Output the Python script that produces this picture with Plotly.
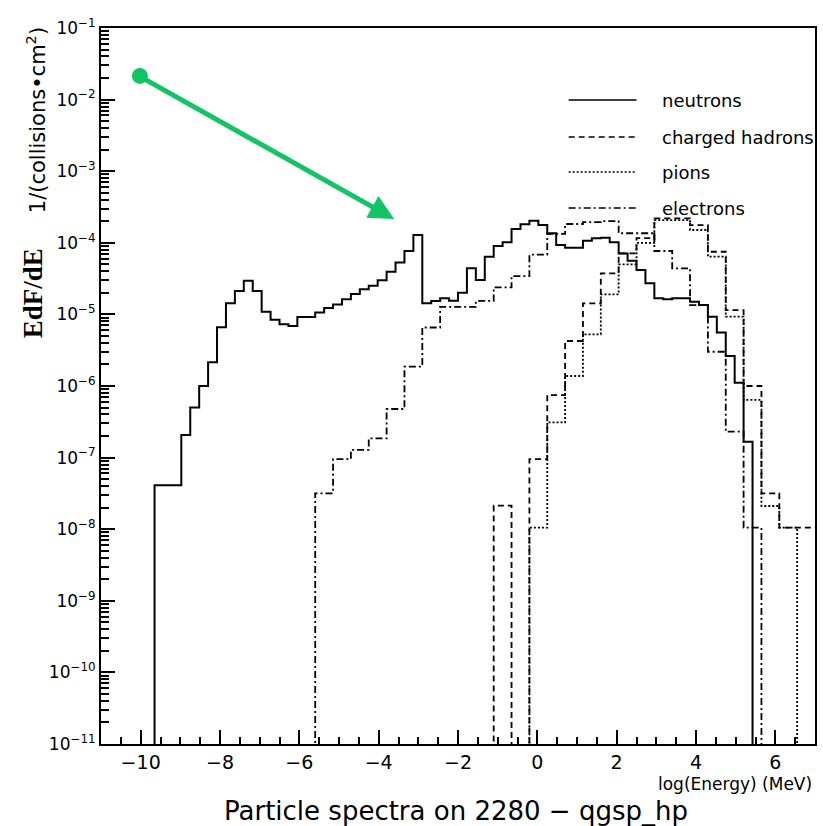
import plotly.graph_objects as go

# ---------------- data ----------------
X_MIN, X_MAX = -11.0, 7.0

neutrons = [0, 0, 0, 0, 0, 0, 4.1e-8, 4.1e-8, 4.1e-8, 2.07e-7,
            5.0e-7, 1.0e-6, 2.14e-6, 6.6e-6, 1.43e-5, 2.12e-5, 2.96e-5, 2.12e-5, 1.09e-5, 8.4e-6,
            7.3e-6, 6.9e-6, 9.2e-6, 9.2e-6, 1.06e-5, 1.23e-5, 1.37e-5, 1.63e-5, 1.93e-5, 2.24e-5,
            2.52e-5, 3.0e-5, 3.95e-5, 5.3e-5, 7.7e-5, 1.29e-4, 1.43e-5, 1.54e-5, 1.68e-5, 1.55e-5,
            2.01e-5, 4.4e-5, 3.02e-5, 6.4e-5, 9.0e-5, 1.02e-4, 1.56e-4, 1.81e-4, 2.04e-4, 1.77e-4,
            1.36e-4, 9.3e-5, 8.5e-5, 8.5e-5, 1.07e-4, 1.16e-4, 1.18e-4, 1.02e-4, 7.1e-5, 5.6e-5,
            4.17e-5, 2.72e-5, 1.68e-5, 1.63e-5, 1.68e-5, 1.68e-5, 1.50e-5, 1.35e-5, 9.3e-6, 5.6e-6,
            2.62e-6, 1.11e-6, 1.67e-7, 0, 0, 0, 0, 0, 0, 0]

charged_hadrons = [0, 0, 0, 0, 0, 0, 0, 0, 0, 0,
                   0, 0, 0, 0, 0, 0, 0, 0, 0, 0,
                   0, 0, 2.13e-8, 0, 9.55e-8, 7.48e-7, 4.25e-6, 1.43e-5, 3.75e-5, 7.1e-5,
                   1.16e-4, 2.2e-4, 2.2e-4, 1.77e-4, 7.5e-5, 1.15e-5, 1.0e-6, 3.17e-8, 1.05e-8, 1.05e-8]

pions = [0, 0, 0, 0, 0, 0, 0, 0, 0, 0,
         0, 0, 0, 0, 0, 0, 0, 0, 0, 0,
         0, 0, 0, 0, 1.05e-8, 3.11e-7, 1.38e-6, 5.27e-6, 1.91e-5, 5.0e-5,
         1.0e-4, 2.08e-4, 2.08e-4, 1.51e-4, 6.4e-5, 9.3e-6, 6.4e-7, 2.11e-8, 1.05e-8, 0]

electrons = [0, 0, 0, 0, 0, 0, 0, 0, 0, 0,
             0, 0, 3.17e-8, 9.5e-8, 1.28e-7, 1.86e-7, 4.77e-7, 1.86e-6, 6.56e-6, 1.27e-5,
             1.27e-5, 1.54e-5, 2.38e-5, 3.42e-5, 6.82e-5, 1.33e-4, 1.83e-4, 1.95e-4, 2.01e-4, 1.36e-4,
             1.36e-4, 7.68e-5, 4.4e-5, 1.35e-5, 3.01e-6, 2.3e-7, 1.05e-8, 0, 0, 0]

series_names = ["neutrons", "charged hadrons", "pions", "electrons"]
x_tick_vals = [-10, -8, -6, -4, -2, 0, 2, 4, 6]
y_decades = list(range(-11, 0))
y_tick_text = ["10<sup>−%d</sup>" % (-e) for e in y_decades]

FLOOR = 1e-14  # empty bins drawn below the visible range (log axis)
FONT = "DejaVu Sans, Liberation Sans, Arial"


def step_xy(values):
    n = len(values)
    w = (X_MAX - X_MIN) / n
    xs = [X_MIN + i * w for i in range(n + 1)]
    ys = [v if v > 0 else FLOOR for v in values]
    ys = ys + [ys[-1]]
    return xs, ys


styles = {
    "neutrons": dict(color="black", width=2, dash="solid"),
    "charged hadrons": dict(color="black", width=1.8, dash="6px,4px"),
    "pions": dict(color="black", width=1.8, dash="2px,2px"),
    "electrons": dict(color="black", width=1.8, dash="7px,3px,2px,3px"),
}

fig = go.Figure()
for name, vals in zip(series_names, [neutrons, charged_hadrons, pions, electrons]):
    xs, ys = step_xy(vals)
    fig.add_trace(go.Scatter(x=xs, y=ys, mode="lines", name=name,
                             line=dict(shape="hv", **styles[name]),
                             showlegend=False, hoverinfo="skip"))

# green pointer (decoration)
GREEN = "#12c463"
fig.add_trace(go.Scatter(x=[-10.02], y=[0.0214], mode="markers",
                         marker=dict(color=GREEN, size=16), showlegend=False, hoverinfo="skip"))

L, R, T, B = 101, 6, 28, 82
W, H = 823, 826
PW, PH = W - L - R, H - T - B


def px_to_paper(px, py):
    return (px - L) / PW, (H - B - py) / PH


annotations = []
annotations.append(dict(x=-3.61, y=-3.668, xref="x", yref="y", ax=-255, ay=-143,
                        showarrow=True, arrowhead=2, arrowsize=1.0, arrowwidth=5,
                        arrowcolor=GREEN, text=""))

# manual legend
shapes = []
leg_y = [100, 137, 172, 208]
for name, ly in zip(series_names, leg_y):
    x0, y0 = px_to_paper(570, ly)
    x1, _ = px_to_paper(638, ly)
    st = styles[name]
    shapes.append(dict(type="line", xref="paper", yref="paper", x0=x0, x1=x1, y0=y0, y1=y0,
                       line=dict(color="black", width=1.5, dash=st["dash"])))
    tx, _ = px_to_paper(662, ly)
    annotations.append(dict(x=tx, y=y0, xref="paper", yref="paper", text=name, showarrow=False,
                            xanchor="left", yanchor="middle",
                            font=dict(family=FONT, size=18, color="black")))

# axis titles
ex, ey = px_to_paper(33, 293)
annotations.append(dict(x=ex, y=ey, xref="paper", yref="paper", text="<b>EdF/dE</b>",
                        textangle=-90, showarrow=False, xanchor="center", yanchor="middle",
                        font=dict(family="Liberation Serif, Times New Roman", size=27, color="black")))
ux, uy = px_to_paper(36, 120)
annotations.append(dict(x=ux, y=uy, xref="paper", yref="paper", text="1/(collisions•cm<sup>2</sup>)",
                        textangle=-90, showarrow=False, xanchor="center", yanchor="middle",
                        font=dict(family=FONT, size=21, color="black")))
lx, ly_ = px_to_paper(816, 784)
annotations.append(dict(x=lx, y=ly_, xref="paper", yref="paper", text="log(Energy) (MeV)",
                        showarrow=False, xanchor="right", yanchor="middle",
                        font=dict(family=FONT, size=17, color="black")))
bx, by = px_to_paper(457, 811)
annotations.append(dict(x=bx, y=by, xref="paper", yref="paper",
                        text="Particle spectra on 2280 − qgsp_hp",
                        showarrow=False, xanchor="center", yanchor="middle",
                        font=dict(family=FONT, size=26, color="black")))

y_minor_vals = [k * 10.0 ** e for e in y_decades[:-1] for k in range(2, 10)]

fig.update_layout(
    width=W, height=H,
    margin=dict(l=L, r=R, t=T, b=B, pad=0),
    paper_bgcolor="white", plot_bgcolor="white",
    showlegend=False,
    annotations=annotations,
    shapes=shapes,
    xaxis=dict(range=[X_MIN, X_MAX], tickmode="array", tickvals=x_tick_vals,
               ticks="inside", ticklen=14, tickwidth=1.5, tickcolor="black",
               minor=dict(ticks="inside", ticklen=7, tickwidth=1.5, tickcolor="black", dtick=0.5, tick0=0),
               showline=True, linewidth=2, linecolor="black", mirror=True,
               showgrid=False, zeroline=False,
               tickfont=dict(family=FONT, size=19, color="black")),
    yaxis=dict(type="log", range=[-11, -1], tickmode="array",
               tickvals=[10.0 ** e for e in y_decades], ticktext=y_tick_text,
               ticks="inside", ticklen=14, tickwidth=1.5, tickcolor="black",
               minor=dict(ticks="inside", ticklen=8, tickwidth=1.5, tickcolor="black",
                          tickmode="array", tickvals=y_minor_vals),
               showline=True, linewidth=2, linecolor="black", mirror=True,
               showgrid=False, zeroline=False,
               tickfont=dict(family=FONT, size=17, color="black")),
)

fig.write_html("out.html")
